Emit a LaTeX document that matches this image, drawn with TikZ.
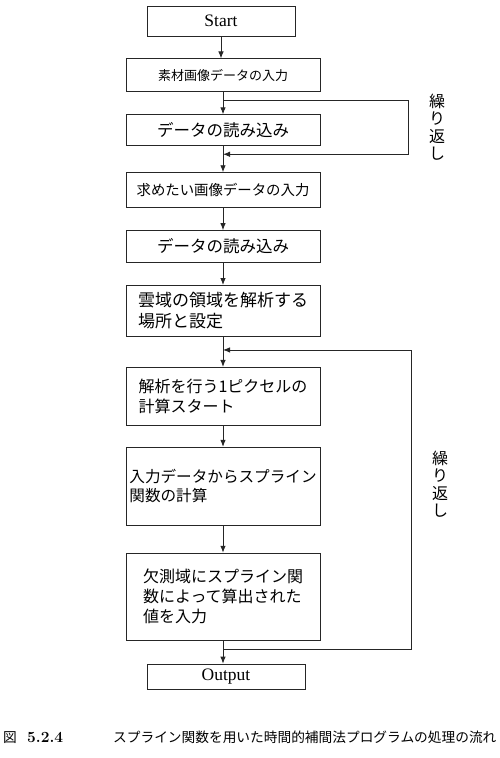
\documentclass[tikz,border=0pt]{standalone}
\usepackage{fontspec}
\usepackage{tikz}
\usetikzlibrary{arrows.meta,positioning,calc}
\newfontfamily\jpfont{Noto Sans CJK JP}
\newfontfamily\romanfont{Liberation Serif}
\newcommand{\boxfont}[2]{\jpfont\fontsize{#1}{#2}\selectfont}

\tikzset{
  procbox/.style={draw=black!85, line width=0.9pt, minimum width=194pt, inner sep=1pt, align=left},
  termbox/.style={draw=black!85, line width=0.9pt, inner sep=1pt, font=\romanfont\fontsize{17.5}{20}\selectfont},
  flowarrow/.style={line width=0.9pt, draw=black!85, -{Latex[length=7pt,width=5.5pt]}},
  replabel/.style={align=center, inner sep=0pt, font=\boxfont{16}{17.5}}
}

\begin{document}
\begin{tikzpicture}
  \useasboundingbox (0,0) rectangle (500pt,-758pt);
  \node[termbox, minimum width=148pt, minimum height=30pt] (start) at (221pt,-21pt) {Start};
  \node[procbox, minimum height=33pt, font=\boxfont{13}{16}] (readsrc) [below = 22pt of start, xshift=2pt] {素材画像データの入力};
  \node[procbox, minimum height=31pt, font=\boxfont{16.5}{19}] (loadsrc) [below = 22pt of readsrc] {データの読み込み};
  \node[procbox, minimum height=35pt, font=\boxfont{14.4}{17}] (readdst) [below = 26pt of loadsrc] {求めたい画像データの入力};
  \node[procbox, minimum height=32pt, font=\boxfont{16.5}{19}] (loaddst) [below = 22pt of readdst] {データの読み込み};
  \node[procbox, minimum height=51pt, font=\boxfont{17}{21}] (setarea) [below = 22pt of loaddst] {雲域の領域を解析する\\場所と設定};
  \node[procbox, minimum height=58pt, font=\boxfont{16}{20}] (pixstart) [below = 30pt of setarea] {解析を行う1ピクセルの\\計算スタート};
  \node[procbox, minimum height=78pt, font=\boxfont{15.6}{19}] (spline) [below = 21pt of pixstart] {入力データからスプライン\\関数の計算};
  \node[procbox, minimum height=87pt, font=\boxfont{16}{20}] (fillin) [below = 27pt of spline] {欠測域にスプライン関\\数によって算出された\\値を入力};
  \node[termbox, minimum width=158pt, minimum height=25pt] (output) [below = 23pt of fillin, xshift=3pt] {Output};

  % main flow
  \draw[flowarrow] (start.south) -- (start.south |- readsrc.north);
  \draw[flowarrow] (readsrc) -- (loadsrc);
  \draw[flowarrow] (loadsrc) -- (readdst);
  \draw[flowarrow] (readdst) -- (loaddst);
  \draw[flowarrow] (loaddst) -- (setarea);
  \draw[flowarrow] (setarea) -- (pixstart);
  \draw[flowarrow] (pixstart) -- (spline);
  \draw[flowarrow] (spline) -- (fillin);
  \draw[flowarrow] (fillin.south) -- (fillin.south |- output.north);

  % loops
  \coordinate (rep1a) at ([yshift=-8pt]readsrc.south);
  \coordinate (rep1b) at ([yshift=-8pt]loadsrc.south);
  \draw[flowarrow] (rep1a) -- ++(185pt,0) |- (rep1b);
  \coordinate (rep2a) at ([yshift=-9pt]fillin.south);
  \coordinate (rep2b) at ([yshift=-13pt]setarea.south);
  \draw[flowarrow] (rep2a) -- ++(188pt,0) |- (rep2b);
  \node[replabel] (rep1text) at (437pt,-127pt) {繰\\り\\返\\し};
  \node[replabel] (rep2text) at (440pt,-484pt) {繰\\り\\返\\し};

  % caption
  \node[anchor=west, inner sep=0pt, font=\boxfont{13.7}{16}] (caption) at (3pt,-737pt)
    {\makebox[24pt][l]{図}\makebox[86pt][l]{\fontspec{Latin Modern Roman}\bfseries\fontsize{15.5}{16}\selectfont 5.2.4}スプライン関数を用いた時間的補間法プログラムの処理の流れ};
\end{tikzpicture}
\end{document}
